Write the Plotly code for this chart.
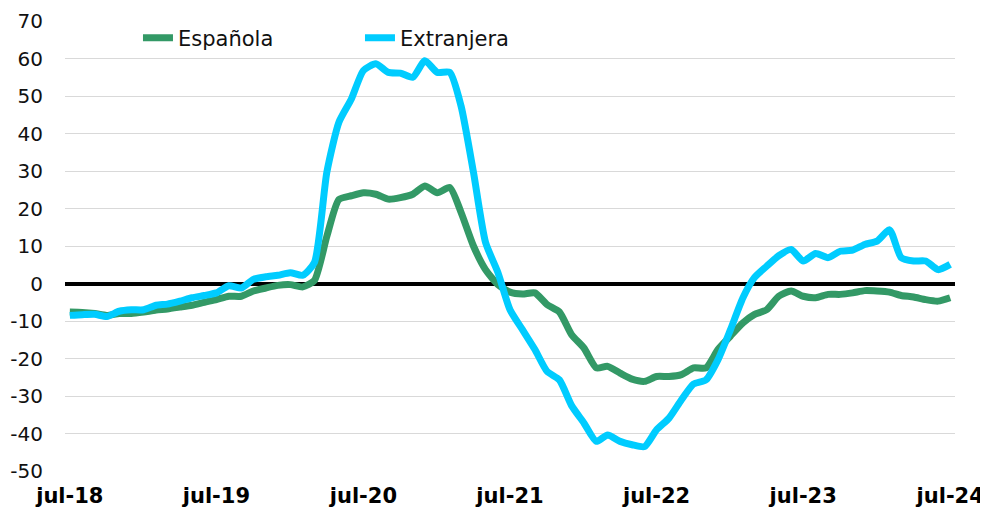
import pandas as pd
import plotly.graph_objects as go

months = pd.date_range("2018-07-01", "2024-07-01", freq="MS")

espanola = [-7.6, -7.7, -8.0, -8.5, -8.0, -8.0, -7.6, -7.1, -6.8, -6.3, -5.8, -5.0,
            -4.3, -3.4, -3.4, -2.0, -1.2, -0.5, -0.3, -0.9, 0.8, 12.6, 22.4, 23.4,
            24.2, 23.8, 22.5, 22.9, 23.8, 26.0, 24.2, 25.6, 19.0, 10.0, 3.7, -0.3,
            -2.3, -2.8, -2.5, -5.6, -7.6, -13.6, -17.2, -22.5, -22.1, -23.9, -25.5, -26.1,
            -24.8, -24.8, -24.3, -22.5, -22.5, -17.6, -14.0, -10.5, -8.3, -7.0, -3.4, -2.0,
            -3.4, -3.8, -2.9, -2.9, -2.5, -1.9, -2.0, -2.3, -3.2, -3.6, -4.3, -4.7, -3.8]

extranjera = [-8.5, -8.3, -8.2, -8.8, -7.4, -7.0, -7.0, -5.8, -5.5, -4.7, -3.8, -3.2,
              -2.5, -0.6, -1.2, 1.1, 1.8, 2.2, 2.9, 2.2, 5.6, 29.7, 43.0, 49.2,
              56.8, 58.6, 56.3, 56.1, 55.0, 59.4, 56.3, 56.3, 47.4, 29.7, 11.0, 2.9,
              -7.0, -12.3, -17.6, -23.4, -25.7, -32.5, -37.2, -42.1, -40.4, -42.1, -43.0, -43.5,
              -39.0, -35.9, -31.0, -26.8, -25.7, -20.3, -12.3, -3.8, 1.5, 4.6, 7.4, 9.1,
              6.0, 8.0, 6.9, 8.6, 8.9, 10.4, 11.3, 14.3, 6.9, 6.0, 6.0, 3.7, 5.1]

tick_dates = ["2018-07-01", "2019-07-01", "2020-07-01", "2021-07-01",
              "2022-07-01", "2023-07-01", "2024-07-01"]
tick_labels = ["jul-18", "jul-19", "jul-20", "jul-21", "jul-22", "jul-23", "jul-24"]
y_ticks = [-50, -40, -30, -20, -10, 0, 10, 20, 30, 40, 50, 60, 70]
y_tick_labels = [str(v) for v in y_ticks]  # plain hyphen-minus, as in the original

GREEN = "#339966"
CYAN = "#00CCFF"

fig = go.Figure()
fig.add_trace(go.Scatter(x=months, y=espanola, name="Española", mode="lines",
                         line=dict(color=GREEN, width=7, shape="spline", smoothing=0.6)))
fig.add_trace(go.Scatter(x=months, y=extranjera, name="Extranjera", mode="lines",
                         line=dict(color=CYAN, width=7, shape="spline", smoothing=0.6)))

# white band hiding the left part of the top gridline behind the legend (as in the original)
fig.add_shape(type="rect", xref="paper", yref="paper", x0=-0.01, x1=0.562, y0=0.985, y1=1.02,
              fillcolor="white", line=dict(width=0), layer="above")

# the page body adds an 8px offset, so the figure is 980x504
fig.update_layout(
    width=980, height=504,
    margin=dict(l=57, r=33, t=13, b=41, autoexpand=False),
    paper_bgcolor="white", plot_bgcolor="white",
    font=dict(family="DejaVu Sans, Verdana, sans-serif", color="#111111"),
    showlegend=True,
    legend=dict(orientation="h", x=0.082, y=0.962, xanchor="left", yanchor="middle",
                font=dict(size=21, color="#111111"), bgcolor="rgba(0,0,0,0)",
                entrywidth=177, entrywidthmode="pixels", itemwidth=30),
)
fig.update_xaxes(
    automargin=False,
    range=[pd.Timestamp("2018-06-19"), pd.Timestamp("2024-07-13")],
    tickvals=tick_dates, ticktext=tick_labels,
    showgrid=False, zeroline=False, showline=False, ticks="",
    tickfont=dict(size=21, family="DejaVu Sans, Verdana, sans-serif", color="#000000", weight="bold"),
    ticklabelstandoff=10,
)
fig.update_yaxes(
    automargin=False,
    range=[-50, 70], tickvals=y_ticks, ticktext=y_tick_labels,
    showgrid=True, gridcolor="#d9d9d9", gridwidth=1,
    zeroline=True, zerolinecolor="#000000", zerolinewidth=4, showline=False, ticks="",
    tickfont=dict(size=20, color="#111111"), ticklabelstandoff=21,
)

fig.write_html("out.html")
